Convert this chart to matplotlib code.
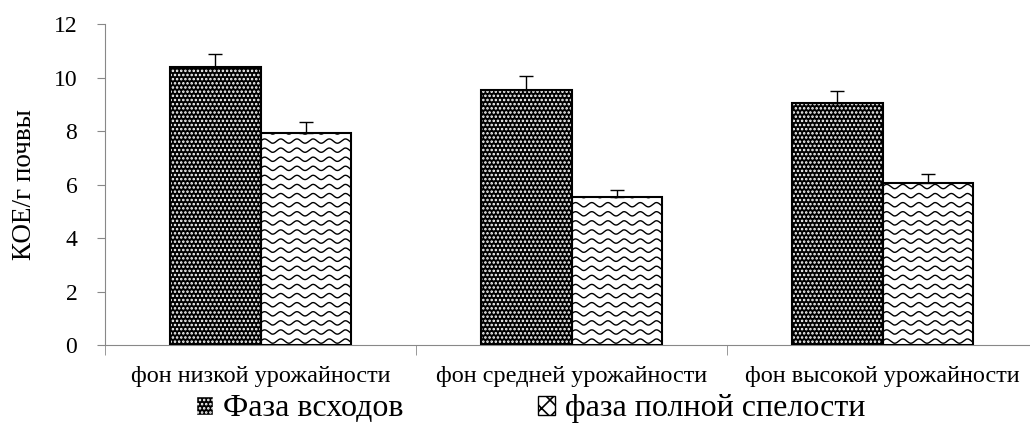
"""
КОЕ/г почвы по фонам урожайности
"""

import numpy as np
from matplotlib import pyplot as plt
from matplotlib.patches import Patch

categories = ['фон низкой урожайности', 'фон средней урожайности', 'фон высокой урожайности']
series_names = ['Фаза всходов', 'фаза полной спелости']
sprouts = [10.4, 9.55, 9.05]
sprouts_err = [0.5, 0.5, 0.45]
ripeness = [7.95, 5.55, 6.08]
ripeness_err = [0.4, 0.25, 0.33]
yticks = [0, 2, 4, 6, 8, 10, 12]

plt.rcParams['font.family'] = ['Liberation Serif', 'DejaVu Serif']
plt.rcParams['hatch.linewidth'] = 1.2


def wavy_fill(ax, bar):
	# wavy texture clipped to the bar
	x0, y0 = bar.get_x(), bar.get_y()
	w, h = bar.get_width(), bar.get_height()
	xs = np.linspace(x0, x0 + w, 400)
	for yy in np.arange(y0 + 0.15, y0 + h + 0.4, 0.34):
		line, = ax.plot(xs, yy + 0.08 * np.sin((xs - x0) / 0.052 * 2 * np.pi),
			color='black', lw=1.0, zorder=3)
		line.set_clip_path(bar)


def make_chart():
	fig = plt.figure(figsize=(10.3, 4.25), dpi=100)
	ax = fig.add_axes([0.102, 0.188, 0.898, 0.755])
	x = np.arange(len(categories))
	w = 0.29
	# dark bars: black with white dots
	ax.bar(x - w / 2, sprouts, w, color='black', edgecolor='white', hatch='....', lw=0, zorder=2)
	ax.bar(x - w / 2, sprouts, w, fill=False, edgecolor='black', lw=1.5, zorder=4)
	ax.errorbar(x - w / 2, sprouts, yerr=[[0] * 3, sprouts_err], fmt='none',
		ecolor='black', elinewidth=1, capsize=5, capthick=1, zorder=5)
	# light bars: white with waves
	light = ax.bar(x + w / 2, ripeness, w, color='white', lw=0, zorder=2)
	for b in light:
		wavy_fill(ax, b)
	ax.bar(x + w / 2, ripeness, w, fill=False, edgecolor='black', lw=1.5, zorder=4)
	ax.errorbar(x + w / 2, ripeness, yerr=[[0] * 3, ripeness_err], fmt='none',
		ecolor='black', elinewidth=1, capsize=5, capthick=1, zorder=5)

	ax.set_xlim(-0.5, 2.474)
	ax.set_ylim(0, 12)
	ax.set_yticks(yticks)
	ax.tick_params(axis='y', labelsize=17, color='#888888', length=6, pad=14)
	ax.set_xticks(x)
	ax.set_xticklabels(categories, fontsize=17.5)
	ax.tick_params(axis='x', length=0, pad=15)
	ax.set_xticks([-0.5, 0.5, 1.5], minor=True)
	ax.tick_params(axis='x', which='minor', length=7, color='#888888')
	for s in ['top', 'right']:
		ax.spines[s].set_visible(False)
	for s in ['left', 'bottom']:
		ax.spines[s].set_color('#888888')
	ax.set_ylabel('КОЕ/г почвы', fontsize=19.5, labelpad=12)

	handles = [Patch(facecolor='black', edgecolor='white', hatch='....'),
		Patch(facecolor='white', edgecolor='black', hatch='xx')]
	fig.legend(handles, series_names, loc='lower center', bbox_to_anchor=(0.515, -0.064),
		ncol=2, frameon=False, prop={'family': 'Liberation Serif', 'size': 23},
		handlelength=0.55, handleheight=0.55, handletextpad=0.3, columnspacing=4.2)
	fig.savefig('out.png', dpi=100)


if __name__ == '__main__':
	make_chart()
